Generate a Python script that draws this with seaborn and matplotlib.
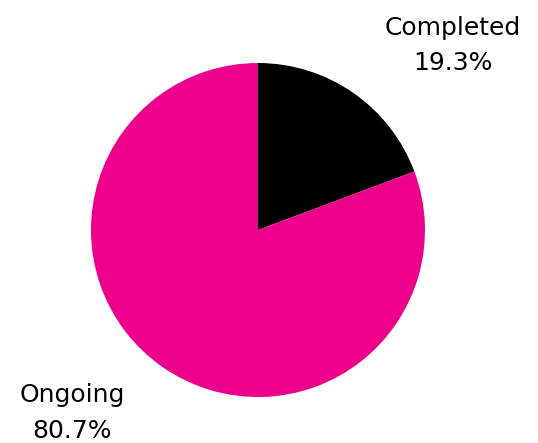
import matplotlib
matplotlib.use("Agg")
import matplotlib.pyplot as plt
import seaborn as sns

# data
labels = ["Completed", "Ongoing"]
values = [19.3, 80.7]
colors = ["#000000", "#EC008C"]

sns.set_theme(style="white")
plt.rcParams['font.family'] = ['DejaVu Sans']

fig = plt.figure(figsize=(5.38, 4.43), dpi=100, facecolor="white")
ax = fig.add_axes([0.1691, 0.1038, 0.6208, 0.754])

wedges, _ = ax.pie(values, colors=colors, startangle=90, counterclock=False,
                   radius=1, wedgeprops=dict(linewidth=0))
ax.set_xlim(-1, 1)
ax.set_ylim(-1, 1)
ax.set_aspect("equal")
ax.axis("off")

# label positions (outside the pie)
label_pos = [(1.168, 1.105), (-1.114, -1.095)]
for lab, val, (x, y) in zip(labels, values, label_pos):
    ax.text(x, y, f"{lab}\n{val:.1f}%", ha="center", va="center",
            fontsize=18, color="black", linespacing=1.6, clip_on=False)

fig.savefig("out.png", dpi=100, facecolor="white")
